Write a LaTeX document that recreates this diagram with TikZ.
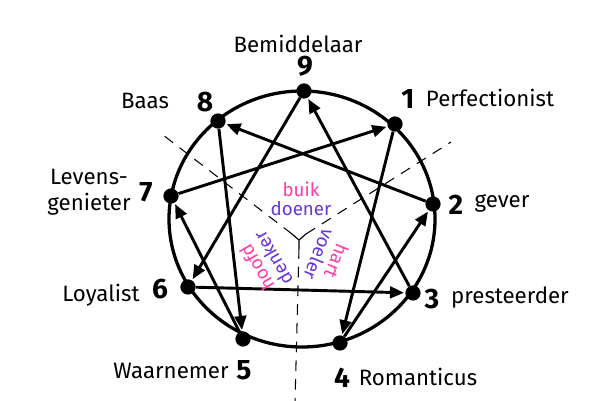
\documentclass[tikz,border=0pt]{standalone}
\usepackage{fontspec}
\setmainfont{Fira Sans}
\usetikzlibrary{arrows.meta}

\definecolor{buikroze}{RGB}{255,60,170}
\definecolor{doenerpaars}{RGB}{105,55,215}

\tikzset{
  dot/.style={circle,fill=black,inner sep=0pt,minimum size=13pt},
  ring/.style={line width=2.8pt},
  pijl/.style={line width=2.5pt,-{Triangle[length=12pt,width=10pt]},shorten >=1pt},
  deel/.style={line width=0.9pt,dash pattern=on 9pt off 7pt},
  naam/.style={font=\fontsize{19}{22}\selectfont,inner sep=0pt},
  getal/.style={font=\bfseries\fontsize{24}{26}\selectfont,inner sep=0pt},
  centrum/.style={font=\fontsize{16}{16}\selectfont,align=center,inner sep=0pt},
}

\begin{document}
\begin{tikzpicture}[x=0.03cm,y=-0.03cm]
\useasboundingbox[fill=white] (0,0) rectangle (600,400);

% de cirkel
\coordinate (mid) at (302,219);
\draw[ring] (mid) ellipse [x radius=133, y radius=128];

% punten op de cirkel
\node[dot] (p9) at (304,91) {};
\node[dot] (p1) at (395,124) {};
\node[dot] (p2) at (433,204) {};
\node[dot] (p3) at (413,293) {};
\node[dot] (p4) at (340,343) {};
\node[dot] (p5) at (243,339) {};
\node[dot] (p6) at (188,287) {};
\node[dot] (p7) at (171,196) {};
\node[dot] (p8) at (218,121) {};

% centra: buik, hart, hoofd
\coordinate (yc) at (299,240);
\coordinate (ya) at (292,234);
\coordinate (yb) at (306,234);
\coordinate (yd) at (299,248);
\draw[line width=1pt] (ya) -- (yc) -- (yb) (yc) -- (yd);
\coordinate (ea) at (163,135);
\coordinate (eb) at (451,142);
\coordinate (ed) at (295,402);
\draw[deel] (ya) -- (ea);
\draw[deel] (yb) -- (eb);
\draw[deel] (yd) -- (ed);

% pijlen
\foreach \a/\b in {7/1,1/4,4/2,2/8,8/5,5/7,9/6,6/3,3/9}
  \draw[pijl] (p\a) -- (p\b);

% teksten
\node[naam] (t9) at (298,44) {Bemiddelaar};
\node[getal] (g9) at (305,66) {9};
\node[naam] (t8) at (145,101) {Baas};
\node[getal] (g8) at (205,102) {8};
\node[getal] (g1) at (408,99) {1};
\node[naam] (t1) at (490,98) {Perfectionist};
\node[naam,align=center] (t7) at (89,192) {Levens-\\genieter};
\node[getal] (g7) at (146,192) {7};
\node[getal] (g2) at (456,205) {2};
\node[naam] (t2) at (502,203) {gever};
\node[naam] (t6) at (101,295) {Loyalist};
\node[getal] (g6) at (160,289) {6};
\node[getal] (g3) at (432,299) {3};
\node[naam] (t3) at (510,298) {presteerder};
\node[naam] (t5) at (171,371) {Waarnemer};
\node[getal] (g5) at (244,370) {5};
\node[getal] (g4) at (342,378) {4};
\node[naam] (t4) at (418,377) {Romanticus};

\node[centrum] (buik) at (301,199) {\textcolor{buikroze}{buik}\\\textcolor{doenerpaars}{doener}};
\node[centrum,rotate=120] (hoofd) at (265,263) {\textcolor{buikroze}{hoofd}\\\textcolor{doenerpaars}{denker}};
\node[centrum,rotate=-112] (hart) at (328,258) {\textcolor{buikroze}{hart}\\\textcolor{doenerpaars}{voeler}};
\end{tikzpicture}
\end{document}
